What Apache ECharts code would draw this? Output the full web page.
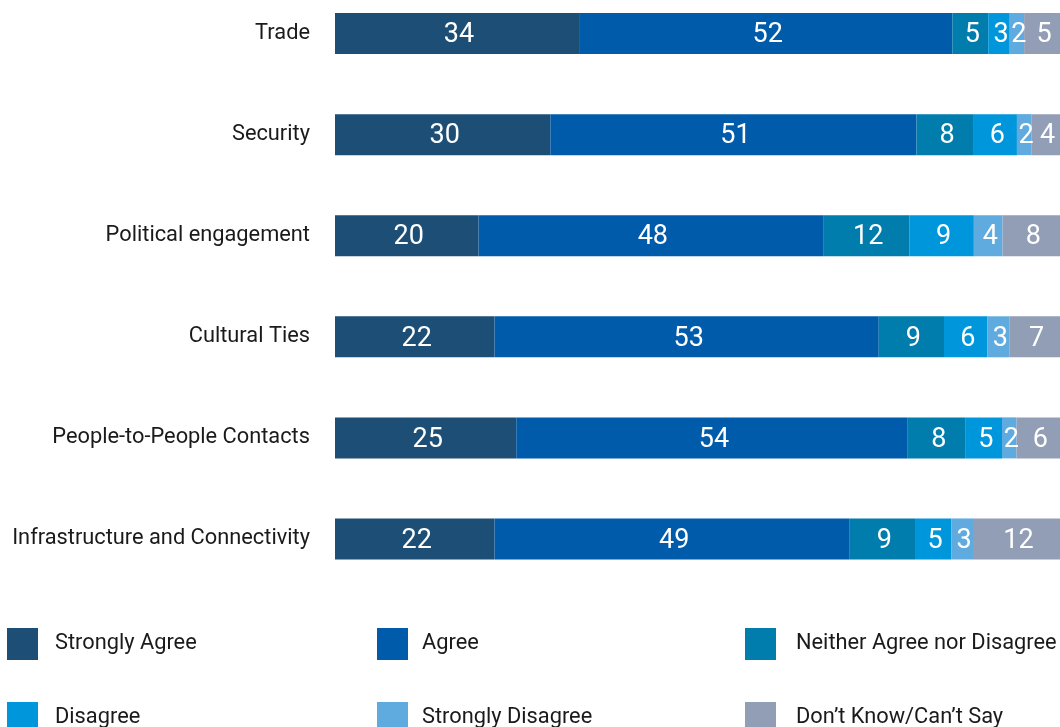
<!DOCTYPE html>
<html><head><meta charset="utf-8">
<script src="https://cdn.jsdelivr.net/npm/echarts@6/dist/echarts.min.js"></script>
<style>html,body{margin:0;padding:0;background:#fff}#c{width:1060px;height:727px}</style>
</head><body><div id="c"></div>
<script>
const categories = ['Trade','Security','Political engagement','Cultural Ties','People-to-People Contacts','Infrastructure and Connectivity'];
const seriesNames = ['Strongly Agree','Agree','Neither Agree nor Disagree','Disagree','Strongly Disagree','Don\u2019t Know/Can\u2019t Say'];
const stronglyAgree = [34,30,20,22,25,22];
const agree = [52,51,48,53,54,49];
const neither = [5,8,12,9,8,9];
const disagree = [3,6,9,6,5,5];
const stronglyDisagree = [2,2,4,3,2,3];
const dontKnow = [5,4,8,7,6,12];
const colors = ['#1d4f76','#005bab','#007dac','#0096db','#5faadf','#929db6'];

const all = [stronglyAgree, agree, neither, disagree, stronglyDisagree, dontKnow];
const rowSums = categories.map((_, i) => all.reduce((s, arr) => s + arr[i], 0));

const series = all.map((arr, k) => ({
  name: seriesNames[k],
  type: 'bar',
  stack: 'total',
  barWidth: 41,
  itemStyle: { color: colors[k] },
  label: {
    show: true, position: 'inside', color: '#fff', fontSize: 27,
    fontFamily: 'Roboto', offset: [2, 2],
    formatter: p => String(p.data.raw)
  },
  data: arr.map((v, i) => ({ value: v / rowSums[i] * 100, raw: v }))
}));

const legendPos = [
  {left: 7, top: 628}, {left: 377, top: 628}, {left: 745, top: 628},
  {left: 7, top: 702}, {left: 377, top: 702}, {left: 745, top: 702}
];
const gaps = [17, 14, 20, 17, 14, 20];
const legends = seriesNames.map((n, k) => ({
  data: [n], left: legendPos[k].left, top: legendPos[k].top, padding: 0,
  itemWidth: 31, itemHeight: 32, icon: 'rect', selectedMode: false,
  itemStyle: { borderWidth: 0 },
  textStyle: { fontSize: 21.8, fontFamily: 'Roboto', color: '#1a1a1a', padding: [0,0,0,gaps[k]-5] }
}));

const chart = echarts.init(document.getElementById('c'), null, {renderer: 'canvas'});
chart.setOption({
  animation: false,
  legend: legends,
  grid: { left: 335, right: 0, top: -17, height: 606.5, containLabel: false, outerBoundsMode: 'none' },
  xAxis: { type: 'value', min: 0, max: 100, show: false },
  yAxis: {
    type: 'category', data: categories, inverse: true,
    axisLine: { show: false }, axisTick: { show: false },
    axisLabel: { fontSize: 21.8, fontFamily: 'Roboto', color: '#1a1a1a', margin: 25 }
  },
  series
});
</script></body></html>
